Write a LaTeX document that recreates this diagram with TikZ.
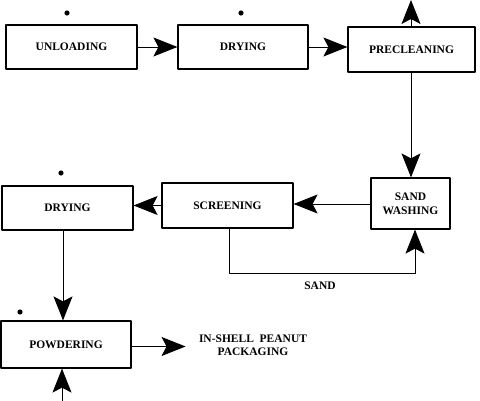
\documentclass[tikz,border=0pt]{standalone}
\usepackage{fontspec}
\setmainfont{Liberation Serif}
\usetikzlibrary{arrows.meta}
\begin{document}
\begin{tikzpicture}[x=1pt,y=-1pt,line join=round,line width=0.9pt,
	font=\fontsize{11.5}{14}\selectfont\bfseries,
	box/.style={draw,line width=1.2pt,align=center,inner sep=0pt},
	flow/.style={-{Stealth[length=24pt,width=19pt,inset=5pt]}}]
	\useasboundingbox (0,0) rectangle (480,401);
	\node[box,minimum width=131pt,minimum height=44pt] (unload) at (71.5,47) {UNLOADING};
	\node[box,minimum width=130pt,minimum height=44pt] (dry1) at (243,47) {DRYING};
	\node[box,minimum width=127pt,minimum height=45pt] (preclean) at (411.5,49.5) {PRECLEANING};
	\node[box,minimum width=79pt,minimum height=51pt] (sandwash) at (410.5,203.5) {SAND\\WASHING};
	\node[box,minimum width=131pt,minimum height=45pt] (screen) at (227.5,205.5) {SCREENING};
	\node[box,minimum width=131pt,minimum height=44pt] (dry2) at (67.5,208) {DRYING};
	\node[box,minimum width=130pt,minimum height=47pt] (powder) at (66,344.5) {POWDERING};
	\node[align=center,inner sep=13pt,font=\fontsize{11.5}{13}\selectfont\bfseries] (pack) at (253,345) {IN-SHELL\ \ PEANUT\\PACKAGING};
	\node (sand) at (320,286) {SAND};
	\coordinate (vent) at (411,0);
	\coordinate (sandturn) at (415,273);
	\coordinate (feed) at (62,401);
	\draw[flow] (unload.east) -- (unload.east -| dry1.west);
	\draw[flow] (dry1.east) -- (dry1.east -| preclean.west);
	\draw[flow] (preclean.north -| vent) -- (vent);
	\draw[flow] (preclean.south -| vent) -- (sandwash.north -| vent);
	\draw[flow] ([yshift=-0.5pt]sandwash.west) -- ([yshift=-0.5pt]sandwash.west -| screen.east);
	\draw[flow] (screen.west) -- (screen.west -| dry2.east);
	\draw[flow] ([xshift=1.5pt]screen.south) |- (sandturn) -- (sandturn |- sandwash.south);
	\draw[flow] ([xshift=-4.5pt]dry2.south) -- ([xshift=-4.5pt]dry2.south |- powder.north);
	\draw[flow] (feed) -- (feed |- powder.south);
	\draw[flow] ([yshift=-2pt]powder.east) -- ([yshift=-2pt]powder.east -| pack.west);
	\foreach \p in {(67,13),(241,13),(61,173),(20,312)}
	\fill \p circle (2.6pt);
\end{tikzpicture}
\end{document}
